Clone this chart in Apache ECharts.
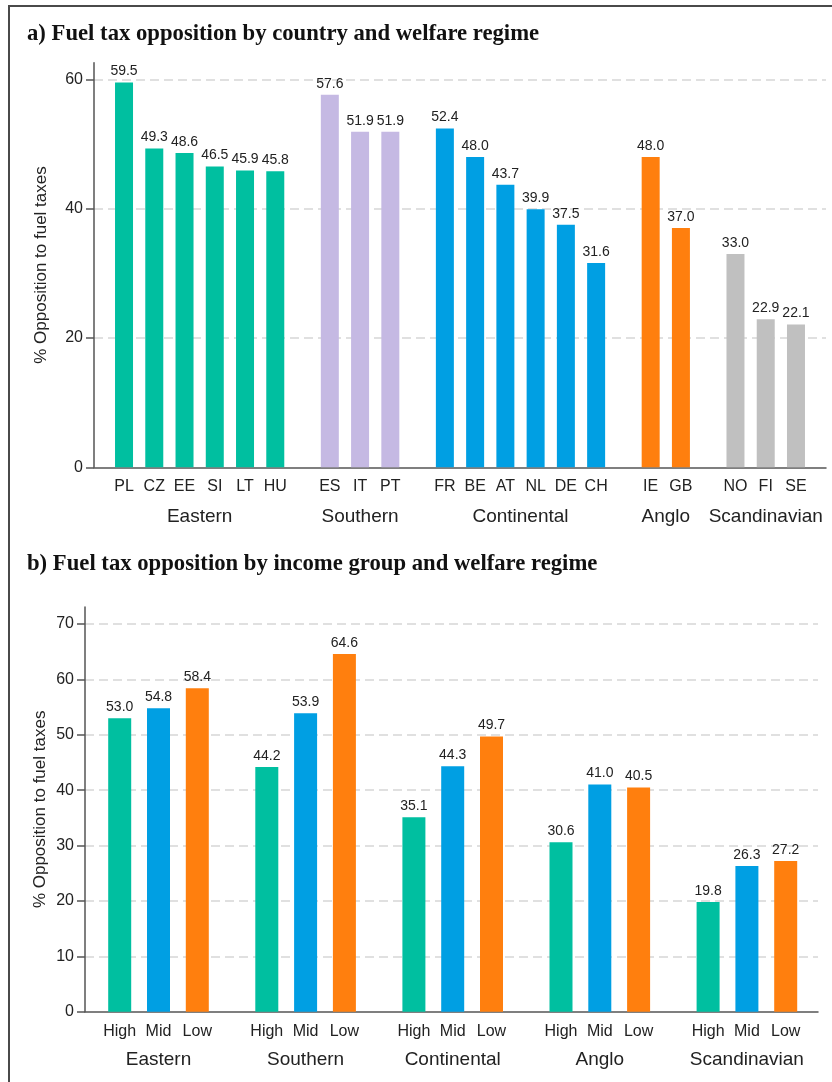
<!DOCTYPE html>
<html>
<head>
<meta charset="utf-8">
<script src="https://cdn.jsdelivr.net/npm/echarts@6/dist/echarts.min.js"></script>
<style>html,body{margin:0;padding:0;background:#fff}#c{width:832px;height:1082px}</style>
</head>
<body>
<div id="c"></div>
<script>
// ---------- data ----------
const regimes = ['Eastern', 'Southern', 'Continental', 'Anglo', 'Scandinavian'];

const easternCodes = ['PL', 'CZ', 'EE', 'SI', 'LT', 'HU'];
const easternValues = [59.5, 49.3, 48.6, 46.5, 45.9, 45.8];
const southernCodes = ['ES', 'IT', 'PT'];
const southernValues = [57.6, 51.9, 51.9];
const continentalCodes = ['FR', 'BE', 'AT', 'NL', 'DE', 'CH'];
const continentalValues = [52.4, 48.0, 43.7, 39.9, 37.5, 31.6];
const angloCodes = ['IE', 'GB'];
const angloValues = [48.0, 37.0];
const scandinavianCodes = ['NO', 'FI', 'SE'];
const scandinavianValues = [33.0, 22.9, 22.1];

const incomeGroups = ['High', 'Mid', 'Low'];
const highIncome = [53.0, 44.2, 35.1, 30.6, 19.8];
const midIncome = [54.8, 53.9, 44.3, 41.0, 26.3];
const lowIncome = [58.4, 64.6, 49.7, 40.5, 27.2];

const panelATicks = [0, 20, 40, 60];
const panelBTicks = [0, 10, 20, 30, 40, 50, 60, 70];

const titleA = 'a) Fuel tax opposition by country and welfare regime';
const titleB = 'b) Fuel tax opposition by income group and welfare regime';
const yName = '% Opposition to fuel taxes';

// ---------- styling ----------
const regimeColors = ['#00BFA0', '#C5B9E3', '#009FE3', '#FF7F0E', '#C0C0C0'];
const incomeColors = ['#00BFA0', '#009FE3', '#FF7F0E'];
const axisColor = '#555';
const textColor = '#222';

const layoutA = {axisX: 94, axisTop: 62.7, tickTop: 79.3, zeroY: 467.3, right: 826,
  slot: 30.25, gap: 24.3, first: 108.9, barW: 18, nameGap: 44, labelMargin: 11, groupGap: 40};
const layoutB = {axisX: 85, axisTop: 607, tickTop: 624, zeroY: 1011.7, right: 818,
  slot: 38.8, gap: 30.7, first: 100.3, barW: 23, nameGap: 36, labelMargin: 12, groupGap: 39};

const groupsA = [
  {name: regimes[0], cats: easternCodes, vals: easternValues},
  {name: regimes[1], cats: southernCodes, vals: southernValues},
  {name: regimes[2], cats: continentalCodes, vals: continentalValues},
  {name: regimes[3], cats: angloCodes, vals: angloValues},
  {name: regimes[4], cats: scandinavianCodes, vals: scandinavianValues}
].map((g, i) => Object.assign(g, {colors: g.cats.map(() => regimeColors[i])}));

const groupsB = regimes.map((r, k) => ({
  name: r,
  cats: incomeGroups,
  vals: [highIncome[k], midIncome[k], lowIncome[k]],
  colors: incomeColors
}));

const grid = [], xAxis = [], yAxis = [], series = [];

function buildPanel(L, groups, ticks) {
  const yMax = ticks[ticks.length - 1];
  const yInt = ticks[1] - ticks[0];
  const plotW = L.right - L.axisX;
  // ticks + gridlines grid
  let gi = grid.length;
  grid.push({left: L.axisX, top: L.tickTop, width: plotW, height: L.zeroY - L.tickTop});
  xAxis.push({gridIndex: gi, type: 'value', show: false, min: 0, max: 1});
  yAxis.push({gridIndex: gi, type: 'value', min: ticks[0], max: yMax, interval: yInt,
    axisLine: {show: false},
    axisTick: {show: true, length: 8, lineStyle: {color: axisColor, width: 1.5}},
    axisLabel: {fontSize: 16, color: textColor, margin: 11},
    splitLine: {show: true, showMinLine: false, lineStyle: {color: '#d6d6d6', width: 1.5, type: [9, 5]}}
  });
  // bar grids per group
  let x = L.first;
  groups.forEach((g) => {
    const w = g.cats.length * L.slot;
    const k = grid.length;
    grid.push({left: x, top: L.tickTop, width: w, height: L.zeroY - L.tickTop});
    xAxis.push({gridIndex: k, type: 'category', data: g.cats,
      axisLine: {show: false}, axisTick: {show: false},
      axisLabel: {fontSize: 16, color: textColor, margin: L.labelMargin, interval: 0},
      name: g.name, nameLocation: 'middle', nameGap: L.groupGap,
      nameTextStyle: {fontSize: 19, color: textColor}
    });
    yAxis.push({gridIndex: k, type: 'value', show: false, min: ticks[0], max: yMax});
    series.push({type: 'bar', xAxisIndex: k, yAxisIndex: k, barWidth: L.barW,
      data: g.vals.map((v, i) => ({value: v, itemStyle: {color: g.colors[i]}})),
      label: {show: true, position: 'top', distance: 4, fontSize: 14, color: textColor,
        formatter: (p) => p.value.toFixed(1)}
    });
    x += w + L.gap;
  });
  // frame grid: axis lines + y name
  const f = grid.length;
  grid.push({left: L.axisX, top: L.axisTop, width: plotW, height: L.zeroY - L.axisTop});
  xAxis.push({gridIndex: f, type: 'value', min: 0, max: 1,
    axisLine: {show: true, onZero: false, lineStyle: {color: axisColor, width: 1.5}},
    axisTick: {show: false}, axisLabel: {show: false}, splitLine: {show: false}});
  yAxis.push({gridIndex: f, type: 'value', min: 0, max: 1,
    axisLine: {show: true, onZero: false, lineStyle: {color: axisColor, width: 1.5}},
    axisTick: {show: false}, axisLabel: {show: false}, splitLine: {show: false},
    name: yName, nameLocation: 'middle', nameGap: L.nameGap,
    nameTextStyle: {fontSize: 17, color: textColor}});
}

buildPanel(layoutA, groupsA, panelATicks);
buildPanel(layoutB, groupsB, panelBTicks);

const chart = echarts.init(document.getElementById('c'), null, {renderer: 'canvas'});
chart.setOption({
  animation: false,
  backgroundColor: '#fff',
  textStyle: {fontFamily: 'Liberation Sans, Arial, sans-serif'},
  title: [
    {text: titleA, left: 27, top: 23, padding: 0,
      textStyle: {fontFamily: 'Liberation Serif', fontWeight: 'bold', fontSize: 22.7, color: '#111'}},
    {text: titleB, left: 27, top: 553, padding: 0,
      textStyle: {fontFamily: 'Liberation Serif', fontWeight: 'bold', fontSize: 22.7, color: '#111'}}
  ],
  graphic: [{type: 'rect', silent: true, z: 100,
    shape: {x: 9, y: 6, width: 1000, height: 1200},
    style: {fill: 'none', stroke: '#4a4a4a', lineWidth: 2}}],
  grid: grid,
  xAxis: xAxis,
  yAxis: yAxis,
  series: series
});
</script>
</body>
</html>
